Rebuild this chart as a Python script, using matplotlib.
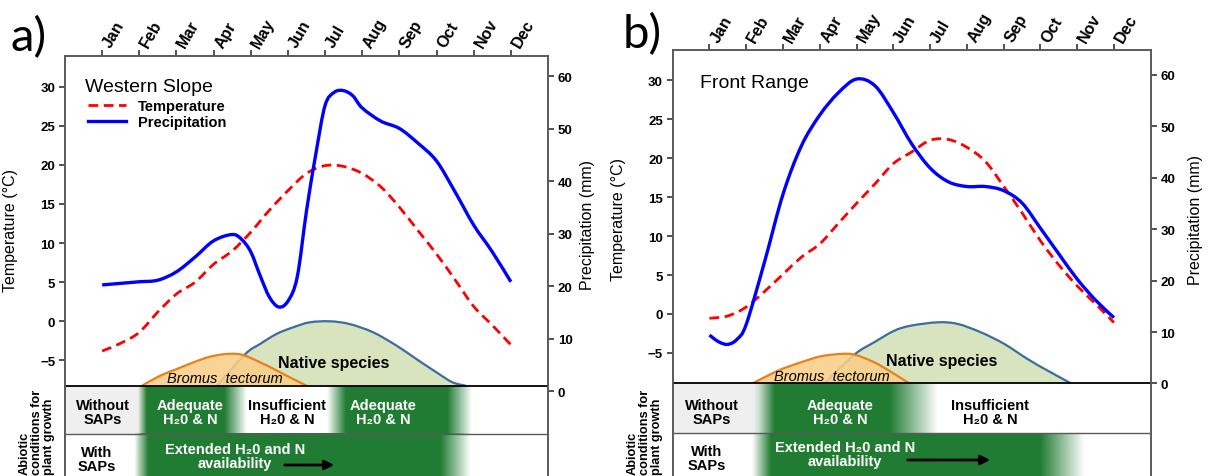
import numpy as np
import matplotlib.pyplot as plt
import matplotlib.transforms as mtransforms
from matplotlib.lines import Line2D
from matplotlib.path import Path
from matplotlib.patches import PathPatch

W, H = 1210, 477
plt.rcParams['font.family'] = ['Liberation Sans', 'DejaVu Sans']

months = ['Jan', 'Feb', 'Mar', 'Apr', 'May', 'Jun',
          'Jul', 'Aug', 'Sep', 'Oct', 'Nov', 'Dec']
half_months = [1, 1.5, 2, 2.5, 3, 3.5, 4, 4.5, 5, 5.5, 6, 6.5,
               7, 7.5, 8, 8.5, 9, 9.5, 10, 10.5, 11, 11.5, 12]

# a) Western Slope
a_temp = [-3.8, -2.8, -1.4, 1.2, 3.5, 5.0, 7.3, 9.0, 11.4, 14.2, 16.7, 18.9,
          19.9, 19.8, 18.9, 17.2, 14.6, 11.6, 8.6, 5.3, 1.9, -0.5, -3.0]
a_precip_month = [1, 1.5, 2, 2.5, 3, 3.5, 4, 4.5, 4.75, 5, 5.25, 5.5, 5.75, 6,
                  6.25, 6.5, 6.75, 7, 7.25, 7.5, 7.75, 8, 8.5, 9, 9.5, 10,
                  10.5, 11, 11.5, 12]
a_precip = [20.3, 20.6, 20.9, 21.2, 22.8, 25.6, 28.7, 29.9, 29.0, 26.6, 22.1,
            18.0, 16.1, 17.2, 21.8, 34.4, 45.2, 54.5, 57.0, 57.3, 56.3, 54.0,
            51.5, 50.1, 47.3, 43.9, 38.0, 31.7, 26.6, 20.9]
a_bromus_month = [2.07, 2.56, 3.01, 3.46, 3.9, 4.35, 4.76, 5.25, 5.7, 6.14, 6.5]
a_bromus = [-8.24, -6.96, -6.1, -5.24, -4.53, -4.18, -4.27, -5.24, -6.3, -7.38, -8.24]
a_native_month = [4.09, 4.85, 5.25, 5.7, 6.14, 6.59, 7.13, 7.66, 8.29, 8.92,
                  9.45, 9.99, 10.43, 10.79]
a_native = [-8.24, -4.2, -2.9, -1.6, -0.77, -0.13, 0.0, -0.35, -1.4, -3.1,
            -4.8, -6.5, -7.8, -8.24]
# green bands: fade-in start, full start, full end, fade-out end (months)
a_without_saps = [(1.97, 2.2, 4.3, 4.9), (7.05, 7.55, 10.3, 10.95)]
a_with_saps = [(1.85, 2.22, 10.1, 10.9)]

# b) Front Range
b_temp = [-0.55, -0.25, 0.9, 2.9, 5.1, 7.3, 9.0, 11.6, 14.2, 16.7, 19.3, 20.8,
          22.3, 22.4, 21.4, 19.6, 16.4, 13.0, 9.4, 6.3, 3.6, 1.3, -1.1]
b_precip_month = [1, 1.25, 1.5, 1.75, 2, 2.5, 3, 3.5, 4, 4.5, 5, 5.5, 6, 6.5,
                  7, 7.5, 8, 8.5, 9, 9.5, 10, 10.5, 11, 11.5, 12]
b_precip = [9.4, 8.1, 7.6, 8.6, 11.5, 23.7, 36.8, 46.2, 52.2, 56.5, 59.2,
            57.9, 52.7, 46.6, 41.9, 39.2, 38.3, 38.3, 37.5, 35.1, 30.2, 25.2,
            20.3, 16.2, 12.8]
b_bromus_month = [2.18, 2.86, 3.49, 4.03, 4.58, 4.94, 5.48, 6.03, 6.43]
b_bromus = [-8.9, -7.28, -6.2, -5.43, -5.13, -5.22, -6.2, -7.7, -8.9]
b_native_month = [4.13, 4.94, 5.48, 6.03, 6.48, 7.21, 7.75, 8.38, 9.02, 9.65,
                  10.2, 10.83]
b_native = [-8.9, -5.22, -3.63, -2.14, -1.5, -1.07, -1.28, -2.35, -3.85,
            -5.78, -7.28, -8.9]
b_without_saps = [(2.2, 2.75, 5.9, 7.2)]
b_with_saps = [(2.15, 2.65, 10.0, 11.2)]

GREEN = (0.13, 0.49, 0.20)
SPINE = '#5a5a5a'
DASH = (0, (3.5, 2))

fig = plt.figure(figsize=(W / 100, H / 100), dpi=100)
# pixel coordinates of the reference image (origin top-left)
pix = mtransforms.Affine2D().scale(1 / W, -1 / H).translate(0, 1) + fig.transFigure
label_shift = mtransforms.ScaledTranslation(0.05, 0, fig.dpi_scale_trans)


def smooth_path(x, y, close=False):
    # smoothed (Excel-like) bezier through the given points
    x = np.asarray(x, float)
    y = np.asarray(y, float)
    n = len(x)
    verts = [(x[0], y[0])]
    codes = [Path.MOVETO]
    for i in range(n - 1):
        i0, i3 = max(i - 1, 0), min(i + 2, n - 1)
        c1 = (x[i] + (x[i + 1] - x[i0]) / 6, y[i] + (y[i + 1] - y[i0]) / 6)
        c2 = (x[i + 1] - (x[i3] - x[i]) / 6, y[i + 1] - (y[i3] - y[i]) / 6)
        verts += [c1, c2, (x[i + 1], y[i + 1])]
        codes += [Path.CURVE4] * 3
    if close:
        verts.append((x[0], y[0]))
        codes.append(Path.CLOSEPOLY)
    return Path(verts, codes)


def add_band(ax, zone, y0, y1):
    x0, xa, xb, x1 = zone
    xs = np.linspace(x0, x1, 400)
    img = np.zeros((1, len(xs), 4))
    img[..., :3] = GREEN
    img[..., 3] = np.interp(xs, [x0, xa, xb, x1], [0, 1, 1, 0])
    ax.imshow(img, extent=[x0, x1, y0, y1], aspect='auto',
              interpolation='bilinear', zorder=1)


def draw_panel(rect, tlim, plim, row_top, row_mid, temp, p_month, precip,
               br_month, bromus, na_month, native, without, with_):
    ax = fig.add_axes(rect)
    ax2 = ax.twinx()

    # species windows
    ax.add_patch(PathPatch(smooth_path(na_month, native, True),
                           facecolor='#d7e4bd', edgecolor='none', zorder=2))
    ax.add_patch(PathPatch(smooth_path(na_month, native), facecolor='none',
                           edgecolor='#3d6ca3', lw=1.6, zorder=2))
    ax.add_patch(PathPatch(smooth_path(br_month, bromus, True),
                           facecolor='#f9cf88', alpha=0.88, edgecolor='none',
                           zorder=2))
    ax.add_patch(PathPatch(smooth_path(br_month, bromus), facecolor='none',
                           edgecolor='#e8801c', lw=1.6, zorder=2))

    # climate lines
    ax.add_patch(PathPatch(smooth_path(half_months, temp), facecolor='none',
                           edgecolor='red', lw=2.0, ls=DASH, zorder=4))
    ax2.add_patch(PathPatch(smooth_path(p_month, precip), facecolor='none',
                            edgecolor='blue', lw=2.4, zorder=4))

    # table rows
    ax.fill_between([0, 2.3], row_mid, row_top, color='#efefef', lw=0, zorder=0)
    for z in without:
        add_band(ax, z, row_mid, row_top)
    for z in with_:
        add_band(ax, z, tlim[0], row_mid)
    ax.axhline(row_top, color='black', lw=1.3, zorder=3)
    ax.axhline(row_mid, color=SPINE, lw=1.0, zorder=3)

    ax.set_xlim(0, 13)
    ax.set_ylim(*tlim)
    ax2.set_ylim(*plim)

    ax.set_yticks(range(-5, 31, 5))
    ax2.set_yticks(range(0, 61, 10))
    for a in (ax, ax2):
        a.spines['bottom'].set_visible(False)
        for s in a.spines.values():
            s.set_color(SPINE)
            s.set_linewidth(1.2)
        a.tick_params(direction='out', length=4, width=1.2, color='#333333',
                      labelsize=9.5, pad=3)
        for lab in a.get_yticklabels():
            lab.set_fontweight('bold')

    ax.xaxis.tick_top()
    ax.set_xticks(range(1, 13))
    ax.set_xticklabels(months, rotation=60, ha='left', va='center',
                       rotation_mode='anchor', fontweight='bold')
    ax.tick_params(axis='x', labelsize=11.5, pad=3)
    for lab in ax.get_xticklabels():
        lab.set_transform(lab.get_transform() + label_shift)
    return ax, ax2


ax_a, ax2_a = draw_panel([65 / W, 0, 483 / W, (H - 56.7) / H],
                         (-19.78, 33.96), (-16.1, 63.96), -8.24, -14.35,
                         a_temp, a_precip_month, a_precip,
                         a_bromus_month, a_bromus, a_native_month, a_native,
                         a_without_saps, a_with_saps)
ax_b, ax2_b = draw_panel([672.7 / W, 0, 478 / W, (H - 51) / H],
                         (-20.8, 33.89), (-18.0, 64.85), -8.9, -15.28,
                         b_temp, b_precip_month, b_precip,
                         b_bromus_month, b_bromus, b_native_month, b_native,
                         b_without_saps, b_with_saps)

ax_a.set_ylabel('Temperature (°C)', fontsize=11.5)
ax_a.yaxis.set_label_coords((18 - 65) / 483, (H - 230) / (H - 56.7))
ax2_a.set_ylabel('Precipitation (mm)', fontsize=11.5)
ax2_a.yaxis.set_label_coords((580 - 65) / 483, (H - 225) / (H - 56.7))
ax_b.set_ylabel('Temperature (°C)', fontsize=11.5)
ax_b.yaxis.set_label_coords((626 - 672.7) / 478, (H - 220) / (H - 51))
ax2_b.set_ylabel('Precipitation (mm)', fontsize=11.5)
ax2_b.yaxis.set_label_coords((1188 - 672.7) / 478, (H - 220) / (H - 51))

# panel letters and titles
fig.text(10, 38, 'a)', transform=pix, ha='left', va='center', fontsize=34,
         family=['Lato', 'DejaVu Sans'])
fig.text(623, 35, 'b)', transform=pix, ha='left', va='center', fontsize=34,
         family=['Lato', 'DejaVu Sans'])
fig.text(85, 87, 'Western Slope', transform=pix, ha='left', va='center', fontsize=14)
fig.text(700, 83, 'Front Range', transform=pix, ha='left', va='center', fontsize=14)

legend_handles = [Line2D([], [], color='red', lw=2.0, ls=DASH),
                  Line2D([], [], color='blue', lw=2.4)]
fig.legend(legend_handles, ['Temperature', 'Precipitation'], loc='upper left',
           bbox_to_anchor=(88 / W, 1 - 100 / H), frameon=False,
           prop={'weight': 'bold', 'size': 10.5}, handlelength=2.6,
           handletextpad=0.8, labelspacing=0.15, borderpad=0, borderaxespad=0)

# species labels
for x, y in [(334, 364), (942, 362)]:
    fig.text(x, y, 'Native species', transform=pix, ha='center', va='center',
             fontsize=11.5, fontweight='bold', zorder=6)
for x, y in [(225, 379), (832, 377)]:
    fig.text(x, y, 'Bromus  tectorum', transform=pix, ha='center', va='center',
             fontsize=10.5, style='italic', zorder=6)

# table text
cell = dict(transform=pix, ha='center', va='center', fontsize=10.5,
            fontweight='bold', linespacing=1.05, zorder=6)
fig.text(103, 413, 'Without\nSAPs', **cell)
fig.text(97, 460, 'With\nSAPs', **cell)
fig.text(190, 413, 'Adequate\nH₂0 & N', color='white', **cell)
fig.text(287, 413, 'Insufficient\nH₂0 & N', **cell)
fig.text(383, 413, 'Adequate\nH₂0 & N', color='white', **cell)
fig.text(235, 457, 'Extended H₂0 and N\navailability', color='white', **cell)

fig.text(712, 413, 'Without\nSAPs', **cell)
fig.text(707, 459, 'With\nSAPs', **cell)
fig.text(840, 413, 'Adequate\nH₂0 & N', color='white', **cell)
fig.text(990, 413, 'Insufficient\nH₂0 & N', **cell)
fig.text(845, 455, 'Extended H₂0 and N\navailability', color='white', **cell)

for x0, x1, y in [(282, 337, 466), (905, 993, 461)]:
    fig.add_artist(plt.Annotation('', xy=(x1, y), xytext=(x0, y), xycoords=pix,
                                  textcoords=pix,
                                  arrowprops=dict(arrowstyle='-|>', color='black',
                                                  lw=2, mutation_scale=14)))

for x in (37, 645):
    fig.text(x, 475, 'Abiotic\nconditions for\nplant growth', transform=pix,
             rotation=90, ha='center', va='bottom', multialignment='left',
             fontsize=9.2, fontweight='bold', linespacing=1.03)

fig.savefig('out.png', dpi=100)
